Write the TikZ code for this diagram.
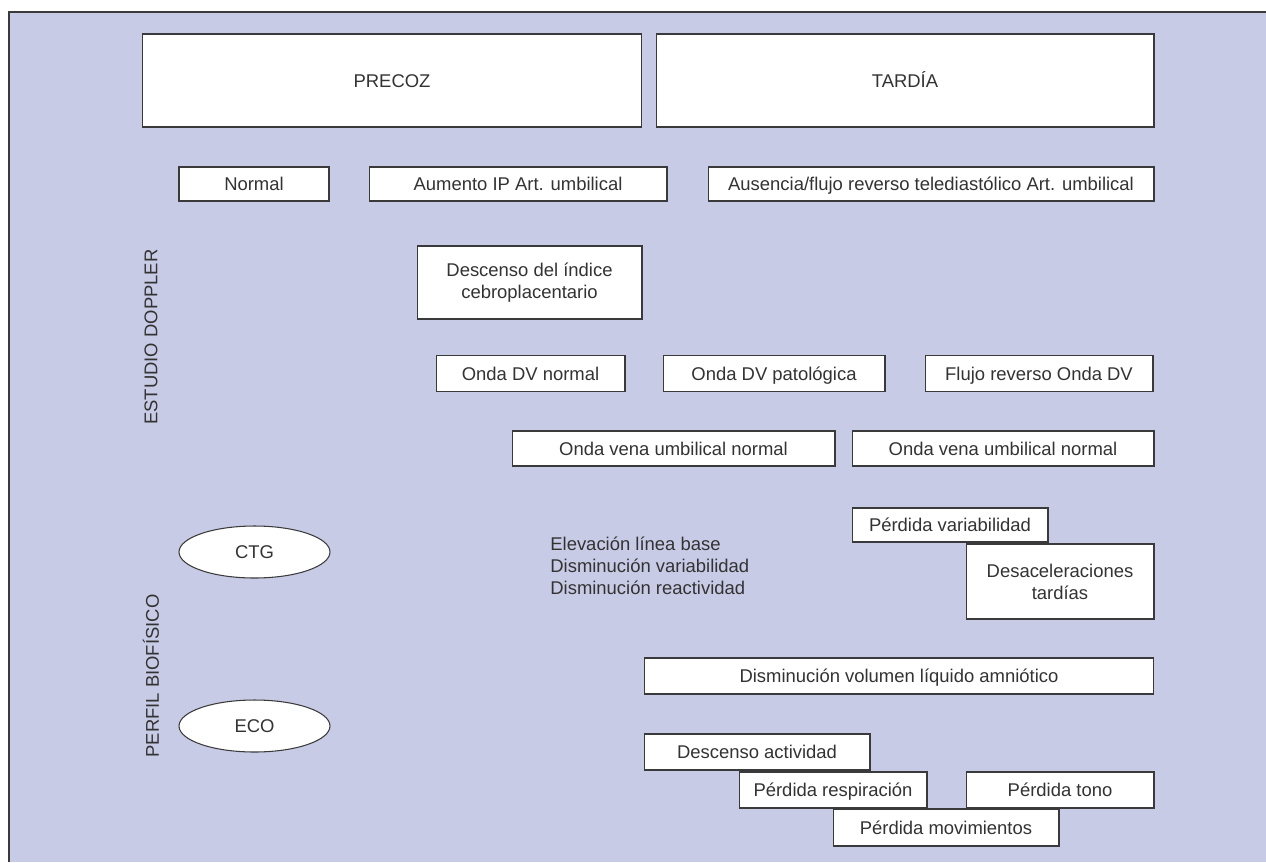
\documentclass[tikz,border=0pt]{standalone}
\usepackage{fontspec}
\setmainfont{Liberation Sans}
\usepackage{xcolor}
\usetikzlibrary{shapes.geometric}
\definecolor{fondo}{HTML}{C8CBE6}
\definecolor{trazo}{HTML}{3A3A3A}
\definecolor{letra}{HTML}{333333}

\begin{document}
\begin{tikzpicture}[x=0.02cm, y=-0.02cm,
    font=\fontsize{10.5}{12.6}\selectfont, text=letra,
    caja/.style={draw=trazo, line width=0.6pt, fill=white, inner sep=0pt,
      outer sep=0pt, align=center},
    linea/.style={caja, text height=7.5pt, text depth=0pt},
    ovalo/.style={ellipse, draw=trazo, line width=0.6pt, fill=white,
      inner sep=0pt, minimum width=3.02cm, minimum height=1.04cm,
      text height=7.5pt, text depth=0pt},
    rotulo/.style={rotate=90, inner sep=0pt}]
  %% ── Fondo y marco ───────────────────────────────────────────
  \useasboundingbox (0,0) rectangle (1266,862);
  \fill[fondo] (9,12) rectangle (1266,862);
  \draw[trazo, line width=1.1pt] (1266,12) -- (9,12) -- (9,862);

  %% ── Cabecera ────────────────────────────────────────────────
  \node[linea, minimum width=10cm, minimum height=1.86cm] (precoz) at (392,80.5) {PRECOZ};
  \node[linea, minimum width=9.96cm, minimum height=1.86cm] (tardia) at (905,80.5) {TARDÍA};

  %% ── Estudio Doppler ─────────────────────────────────────────
  \node[rotulo] (doppler) at (151,337) {ESTUDIO DOPPLER};
  \node[linea, minimum width=3.0cm, minimum height=0.68cm] (normal) at (254,184) {Normal};
  \node[linea, minimum width=5.96cm, minimum height=0.68cm] (aumento) at (518,184) {Aumento IP Art. umbilical};
  \node[linea, minimum width=8.92cm, minimum height=0.68cm] (ausencia) at (931,184)
    {Ausencia/flujo reverso telediastólico Art. umbilical};
  \node[caja, minimum width=4.5cm, minimum height=1.46cm] (icp) at (529.5,282.5)
    {Descenso del índice\\cebroplacentario};
  \node[linea, minimum width=3.78cm, minimum height=0.72cm] (dvnormal) at (530.5,373.5) {Onda DV normal};
  \node[linea, minimum width=4.44cm, minimum height=0.72cm] (dvpatol) at (774,373.5) {Onda DV patológica};
  \node[linea, minimum width=4.56cm, minimum height=0.72cm] (dvreverso) at (1039,373.5) {Flujo reverso Onda DV};
  \node[linea, minimum width=6.46cm, minimum height=0.7cm] (venaA) at (673.5,448.5) {Onda vena umbilical normal};
  \node[linea, minimum width=6.04cm, minimum height=0.7cm] (venaB) at (1003,448.5) {Onda vena umbilical normal};

  %% ── Perfil biofísico ────────────────────────────────────────
  \node[rotulo] (perfil) at (151,676) {PERFIL BIOFÍSICO};
  \node[ovalo] (ctg) at (254.5,552) {CTG};
  \node[ovalo] (eco) at (254.5,726) {ECO};
  \node[anchor=west, align=left, inner sep=0pt] (ctgtexto) at (550,565.5)
    {Elevación línea base\\Disminución variabilidad\\Disminución reactividad};
  \node[linea, minimum width=3.92cm, minimum height=0.68cm] (perdvar) at (950,525) {Pérdida variabilidad};
  \node[caja, minimum width=3.76cm, minimum height=1.5cm] (desacel) at (1060,581.5)
    {Desaceleraciones\\tardías};
  \node[linea, minimum width=10.2cm, minimum height=0.72cm] (liquido) at (899,676)
    {Disminución volumen líquido amniótico};
  \node[linea, minimum width=4.52cm, minimum height=0.72cm] (actividad) at (757,752) {Descenso actividad};
  \node[linea, minimum width=3.76cm, minimum height=0.72cm] (respiracion) at (833,790) {Pérdida respiración};
  \node[linea, minimum width=3.76cm, minimum height=0.72cm] (tono) at (1060,790) {Pérdida tono};
  \node[linea, minimum width=4.52cm, minimum height=0.74cm] (movimientos) at (946,827.5) {Pérdida movimientos};
\end{tikzpicture}
\end{document}
